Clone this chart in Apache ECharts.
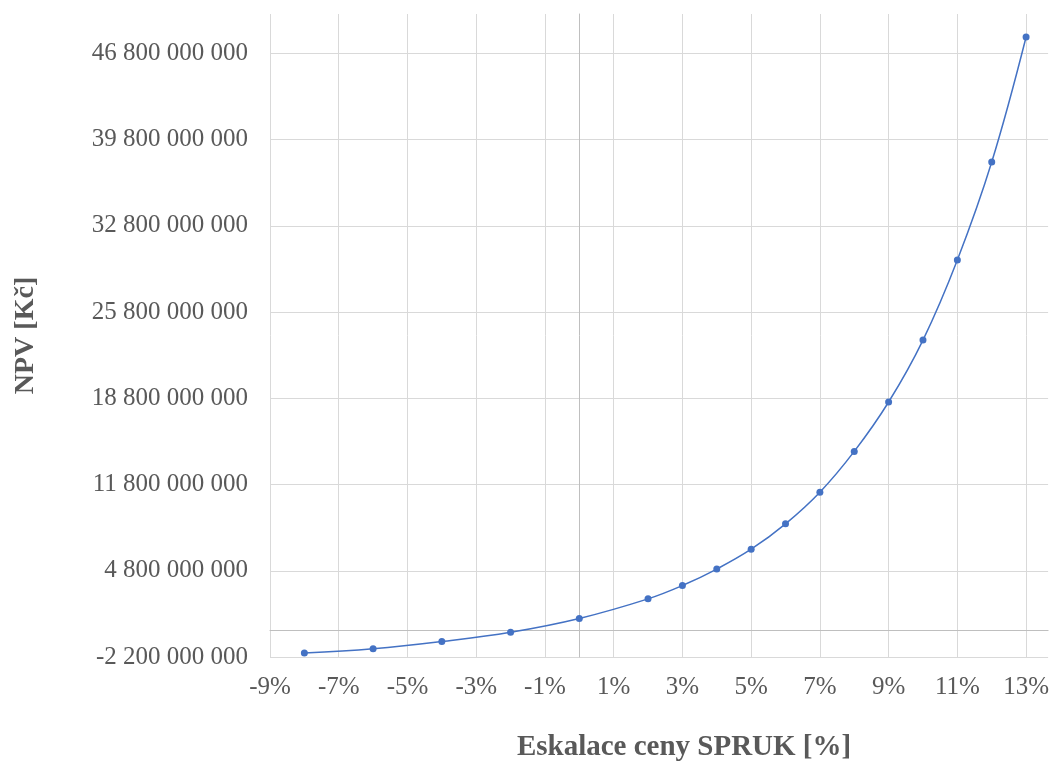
<!DOCTYPE html>
<html>
<head>
<meta charset="utf-8">
<script src="https://cdn.jsdelivr.net/npm/echarts@6/dist/echarts.min.js"></script>
<style>
html,body{margin:0;padding:0;background:#fff;overflow:hidden;}
#chart{width:1052px;height:767px;}
</style>
</head>
<body>
<div id="chart"></div>
<script>
// Data (escalation in %, NPV in Kč)
const escalation = [-8, -6, -4, -2, 0, 2, 3, 4, 5, 6, 7, 8, 9, 10, 11, 12, 13];
const npv = [-1.88e9, -1.53e9, -0.94e9, -0.19e9, 0.93e9, 2.52e9, 3.60e9, 4.94e9, 6.55e9,
             8.61e9, 11.18e9, 14.49e9, 18.50e9, 23.53e9, 30.03e9, 37.98e9, 48.13e9];

// Axis settings
const xMin = -9, xMax = 13.64, xStep = 2;
const yMin = -2.2e9, yMax = 50e9, yStep = 7e9;
const xTitle = 'Eskalace ceny SPRUK [%]';
const yTitle = 'NPV [Kč]';

function groupSpace(n) {
  const neg = n < 0;
  let s = Math.round(Math.abs(n)).toString();
  let out = '';
  while (s.length > 3) { out = ' ' + s.slice(-3) + out; s = s.slice(0, -3); }
  out = s + out;
  return (neg ? '-' : '') + out;
}

const FONT = '"Liberation Serif", "Times New Roman", serif';
const labelColor = '#595959';
const gridColor = '#d9d9d9';
const axisColor = '#bfbfbf';

const chart = echarts.init(document.getElementById('chart'));
chart.setOption({
  animation: false,
  backgroundColor: '#fff',
  grid: { left: 270, right: 0, top: 14, bottom: 103, containLabel: false },
  xAxis: [
    {
      type: 'value', min: xMin, max: xMax,
      axisLine: { show: true, onZero: true, onZeroAxisIndex: 0, lineStyle: { color: axisColor, width: 1 } },
      axisTick: { show: false }, axisLabel: { show: false }, splitLine: { show: false }
    },
    {
      type: 'value', min: 0, max: xMax - xMin, interval: xStep, position: 'bottom',
      axisLine: { show: false, onZero: false }, axisTick: { show: false },
      axisLabel: {
        showMaxLabel: false, margin: 18,
        fontFamily: FONT, fontSize: 25, color: labelColor,
        formatter: v => Math.round(v + xMin) + '%'
      },
      splitLine: { show: true, showMaxLine: false, lineStyle: { color: gridColor, width: 1 } },
      name: xTitle, nameLocation: 'middle', nameGap: 76,
      nameTextStyle: { fontFamily: FONT, fontSize: 29, fontWeight: 'bold', color: labelColor, padding: [0, 0, 0, 50] }
    }
  ],
  yAxis: [
    {
      type: 'value', min: yMin, max: yMax,
      axisLine: { show: true, onZero: true, onZeroAxisIndex: 0, lineStyle: { color: axisColor, width: 1 } },
      axisTick: { show: false }, axisLabel: { show: false }, splitLine: { show: false }
    },
    {
      type: 'value', min: 0, max: yMax - yMin, interval: yStep, position: 'left',
      axisLine: { show: false, onZero: false }, axisTick: { show: false },
      axisLabel: {
        showMaxLabel: false, margin: 22,
        fontFamily: FONT, fontSize: 25, color: labelColor,
        formatter: v => groupSpace(v + yMin)
      },
      splitLine: { show: true, showMaxLine: false, lineStyle: { color: gridColor, width: 1 } },
      name: yTitle, nameLocation: 'middle', nameRotate: 90, nameGap: 230,
      nameTextStyle: { fontFamily: FONT, fontSize: 28, fontWeight: 'bold', color: labelColor }
    }
  ],
  series: [{
    type: 'line',
    xAxisIndex: 0, yAxisIndex: 0,
    data: escalation.map((x, i) => [x, npv[i]]),
    smooth: 0.4,
    symbol: 'circle', symbolSize: 7,
    lineStyle: { color: '#4472C4', width: 1.5 },
    itemStyle: { color: '#4472C4' }
  }]
});
</script>
</body>
</html>
